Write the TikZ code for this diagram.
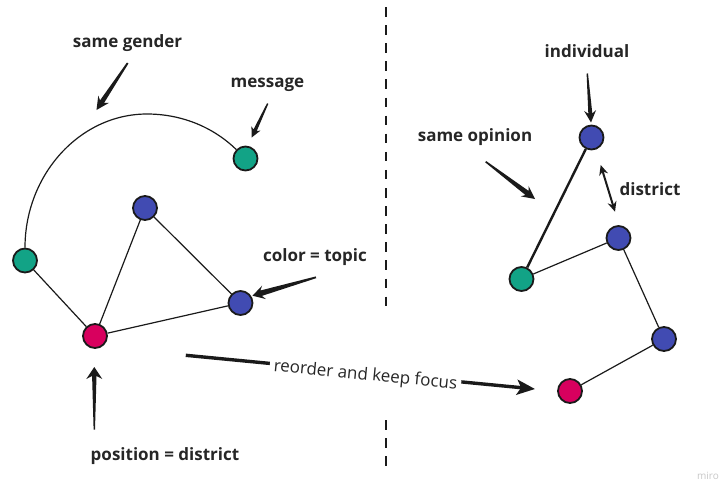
\documentclass[tikz,border=0pt]{standalone}
\usepackage{fontspec}
\setmainfont{Open Sans}
\usetikzlibrary{calc,arrows.meta}

\definecolor{nodeTeal}{HTML}{12A386}
\definecolor{nodeBlue}{HTML}{414BB2}
\definecolor{nodeRed}{HTML}{D8005E}
\definecolor{ink}{HTML}{1A1A1A}
\definecolor{txt}{HTML}{262626}

% Filled wedge arrow: tail, tip, tail half width, shaft half width,
% inset distance from tip, head length, head half width
\newcommand\wedgearrow[7]{%
  \coordinate (wa-b) at ($(#2)!#6!(#1)$);
  \coordinate (wa-i) at ($(#2)!#5!(#1)$);
  \fill[ink] ($(#1)!#3!90:(#2)$) -- ($(wa-i)!#4!90:(#2)$) -- ($(wa-b)!#7!90:(#2)$)
    -- (#2) -- ($(wa-b)!#7!-90:(#2)$) -- ($(wa-i)!#4!-90:(#2)$)
    -- ($(#1)!#3!-90:(#2)$) -- cycle;
}

\begin{document}
\begin{tikzpicture}[x=1pt,y=-1pt,
  dot/.style={circle, draw=ink, line width=1.8pt, minimum size=24pt, inner sep=0pt},
  link/.style={draw=ink, line width=1.2pt},
  strong/.style={draw=ink, line width=2.4pt},
  lbl/.style={font=\bfseries\fontsize{17}{20}\selectfont, text=txt, anchor=base, inner sep=0pt},
  divider/.style={draw=ink, line width=2.8pt, dash pattern=on 9.5pt off 8.6pt}]

\useasboundingbox (0,0) rectangle (721,483);

% divider between the two views
\coordinate (d1) at (386,7);
\coordinate (d2) at (386,307);
\coordinate (d3) at (386,420);
\coordinate (d4) at (386,466);
\draw[divider] (d1) -- (d2);
\draw[divider] (d3) -- (d4);

% left graph
\node[dot, fill=nodeTeal] (lm)  at (245.5,158.5) {};
\node[dot, fill=nodeBlue] (ltb) at (145,208) {};
\node[dot, fill=nodeTeal] (lt)  at (25,260.5) {};
\node[dot, fill=nodeBlue] (lrb) at (240.5,303) {};
\node[dot, fill=nodeRed]  (lr)  at (95,336) {};

\draw[link] (lt) -- (lr);
\draw[link] (lr) -- (ltb);
\draw[link] (ltb) -- (lrb);
\draw[link] (lr) -- (lrb);
\draw[link] (lt.north) .. controls (25,175) and (79.6,114) .. (147,114)
  .. controls (180,114) and (212,126) .. (lm);

% right graph
\node[dot, fill=nodeBlue] (rtb) at (591.5,137.5) {};
\node[dot, fill=nodeBlue] (rmb) at (618.5,238) {};
\node[dot, fill=nodeTeal] (rt)  at (521.5,279) {};
\node[dot, fill=nodeBlue] (rbb) at (664,339) {};
\node[dot, fill=nodeRed]  (rr)  at (570,391) {};

\draw[strong] (rtb) -- (rt);
\draw[link] (rt) -- (rmb);
\draw[link] (rmb) -- (rbb);
\draw[link] (rbb) -- (rr);

% labels
\node[lbl] (sg) at (127.5,47.5) {same gender};
\node[lbl] (ms) at (267.5,87.5) {message};
\node[lbl] (ct) at (315,261) {color = topic};
\node[lbl] (pd) at (165,460.5) {position = district};
\node[lbl] (iv) at (587,57) {individual};
\node[lbl] (so) at (475,141.5) {same opinion};
\node[lbl] (di) at (650,195.5) {district};

% pointer arrows
\coordinate (sgT) at (127.7,63);   \coordinate (sgH) at (96.5,110);
\coordinate (msT) at (267.7,103.5); \coordinate (msH) at (251.7,137.5);
\coordinate (ctT) at (316,277.3);  \coordinate (ctH) at (252.5,295.7);
\coordinate (pdT) at (94.3,429.5); \coordinate (pdH) at (94.3,367);
\coordinate (inT) at (587.3,73.5); \coordinate (inH) at (591,122.5);
\coordinate (soT) at (485.7,161.7); \coordinate (soH) at (535,199);
\coordinate (diA) at (600.7,165);  \coordinate (diB) at (615,211.7);

\wedgearrow{sgT}{sgH}{0.9pt}{2.4pt}{10pt}{13pt}{6.5pt}
\wedgearrow{msT}{msH}{0.7pt}{1.8pt}{8pt}{10pt}{5pt}
\wedgearrow{ctT}{ctH}{0.9pt}{2.8pt}{9pt}{12pt}{7pt}
\wedgearrow{pdT}{pdH}{0.7pt}{2.2pt}{9pt}{12pt}{8pt}
\wedgearrow{inT}{inH}{0.7pt}{2pt}{9pt}{12pt}{6pt}
\wedgearrow{soT}{soH}{0.8pt}{2.6pt}{10pt}{13pt}{6.5pt}
\draw[ink, line width=2pt, {Stealth[length=10pt,width=9pt]}-{Stealth[length=10pt,width=9pt]}] (diA) -- (diB);

% transition arrow between the views
\coordinate (rfrom) at (185.8,355.3);
\coordinate (rto) at (535,389);
\draw[ink, line width=3.4pt, -{Stealth[length=18pt,width=15pt,inset=4pt]}] (rfrom) --
  node[pos=0.515, sloped, yshift=-3pt, fill=white, inner sep=4pt, text=txt,
       font=\fontsize{17}{20}\selectfont] (rlab) {reorder and keep focus} (rto);

% watermark
\node[anchor=base east, inner sep=0pt, text=black!22, font=\fontsize{10}{11}\selectfont] (wm) at (719,479) {miro};
\end{tikzpicture}
\end{document}
